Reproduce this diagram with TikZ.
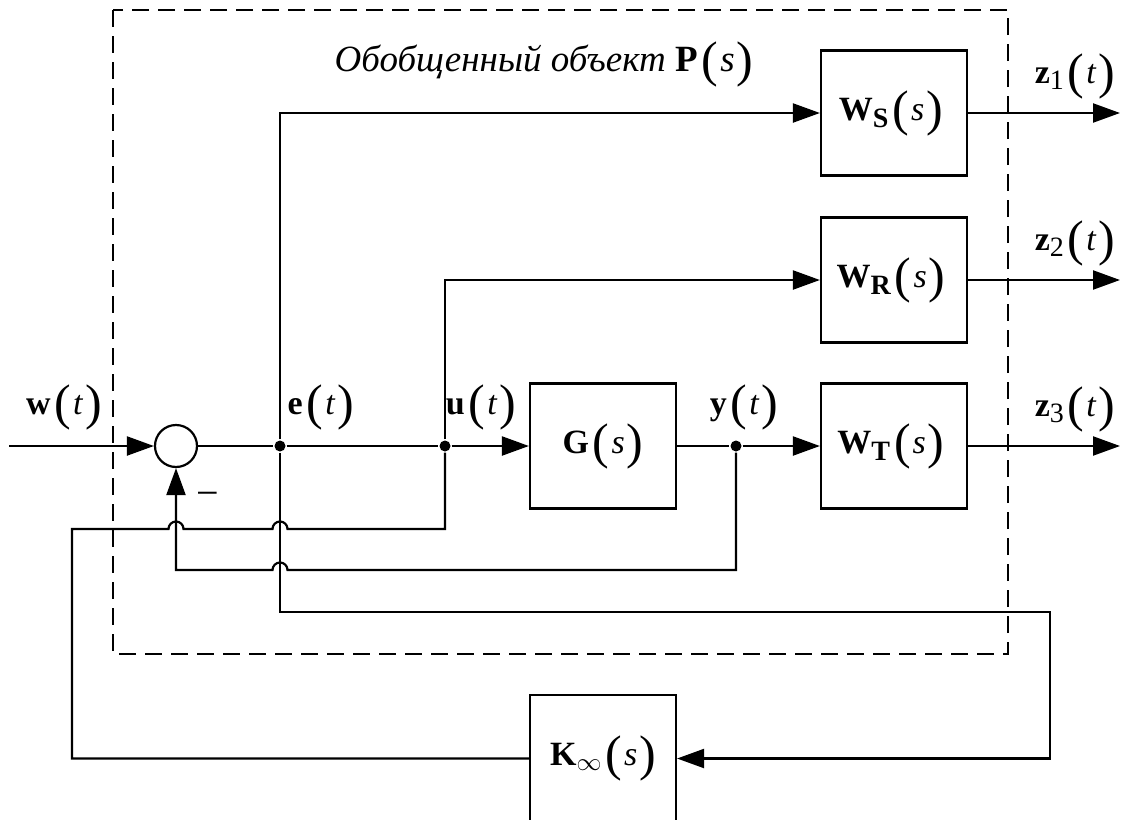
\documentclass[tikz,border=0pt]{standalone}
\usepackage{fontspec}
\setmainfont{Liberation Serif}
\usetikzlibrary{arrows.meta}
\newcommand{\lpr}{\kern4pt\raisebox{-5pt}{\fontsize{50}{50}\selectfont(}\kern2pt}
\newcommand{\rpr}{\kern2pt\raisebox{-5pt}{\fontsize{50}{50}\selectfont)}}
\newcommand{\bsb}[1]{\raisebox{-7pt}{\fontsize{28}{28}\selectfont\bfseries #1}}
\newcommand{\nsb}[1]{\raisebox{-6pt}{\fontsize{28}{28}\selectfont #1}}
\begin{document}
\begin{tikzpicture}[x=1pt,y=-1pt,
  line width=2.2pt,
  >={Triangle[length=27pt,width=19pt]},
  lbl/.style={font=\fontsize{34}{40}\selectfont, inner sep=0pt},
  blk/.style={draw, minimum width=146pt, minimum height=125pt, inner sep=0pt, font=\fontsize{34}{40}\selectfont},
  sumc/.style={draw, circle, minimum size=42pt, inner sep=0pt},
  dotn/.style={circle, fill, minimum size=11pt, inner sep=0pt},
  frame/.style={dash pattern=on 17pt off 9pt, line width=2.2pt}]
\useasboundingbox (0,0) rectangle (1132,819);
% dashed frame
\draw[frame] (113,10) rectangle (1008,654);
\node[lbl, font=\fontsize{37}{44}\selectfont] (title) at (544,64) {\textit{Обобщенный объект} \textbf{P}\lpr\textit{s}\rpr};
% blocks
\node[blk] (WS) at (894,113) {\kern-6pt\textbf{W}\bsb{S}\lpr\textit{s}\rpr};
\node[blk] (WR) at (894,280) {\kern-6pt\textbf{W}\bsb{R}\lpr\textit{s}\rpr};
\node[blk] (WT) at (894,446) {\kern-6pt\textbf{W}\bsb{T}\lpr\textit{s}\rpr};
\node[blk] (G) at (603,446) {\textbf{G}\lpr\textit{s}\rpr};
\node[blk, minimum height=127pt] (K) at (603,758.5) {\textbf{K}\raisebox{-5pt}{$\scriptstyle\infty$}\lpr\textit{s}\rpr};
\node[sumc] (sum) at (176,446) {};
\node[dotn] (e) at (280,446) {};
\node[dotn] (u) at (445,446) {};
\node[dotn] (y) at (736,446) {};
% labels
\node[lbl] (lw) at (64,407) {\textbf{w}\lpr\textit{t}\rpr};
\node[lbl] (le) at (321,407) {\textbf{e}\lpr\textit{t}\rpr};
\node[lbl] (lu) at (481,407) {\textbf{u}\lpr\textit{t}\rpr};
\node[lbl] (ly) at (744,407) {\textbf{y}\lpr\textit{t}\rpr};
\node[lbl] (lz1) at (1075,76) {\textbf{z}\nsb{1}\lpr\textit{t}\rpr};
\node[lbl] (lz2) at (1075,243) {\textbf{z}\nsb{2}\lpr\textit{t}\rpr};
\node[lbl] (lz3) at (1075,409) {\textbf{z}\nsb{3}\lpr\textit{t}\rpr};
\node[lbl, font=\fontsize{40}{40}\selectfont] (minus) at (208,499) {−};
% coordinates
\coordinate (win) at (9,446);
\coordinate (z1) at (1120,113);
\coordinate (z2) at (1120,280);
\coordinate (z3) at (1120,446);
\coordinate (eBot) at (280,612);
\coordinate (rc) at (1050,758.5);
\coordinate (lc) at (72,529);
\coordinate (b1) at (168.5,529);
\coordinate (b2) at (272.5,529);
\coordinate (uBot) at (445,529);
\coordinate (yBot) at (736,570);
\coordinate (b3) at (287.5,570);
\coordinate (sBot) at (176,570);
% connectors
\draw[->] (win) -- (sum.west);
\draw (sum.east) -- (e);
\draw (e) -- (u);
\draw[->] (u) -- (G.west);
\draw (G.east) -- (y);
\draw[->] (y) -- (WT.west);
\draw[->] (WS.east) -- (z1);
\draw[->] (WR.east) -- (z2);
\draw[->] (WT.east) -- (z3);
\draw[->] (e) |- (WS.west);
\draw[->] (u) |- (WR.west);
\draw[->] (e) -- (eBot) -| (rc) -- (K.east);
\draw (K.west) -| (lc) -- (b1) arc[start angle=180,end angle=0,radius=7.5pt] -- (b2) arc[start angle=180,end angle=0,radius=7.5pt] -- (uBot) -- (u);
\draw[->] (y) -- (yBot) -- (b3) arc[start angle=0,end angle=180,radius=7.5pt] -- (sBot) -- (sum.south);
\end{tikzpicture}
\end{document}
